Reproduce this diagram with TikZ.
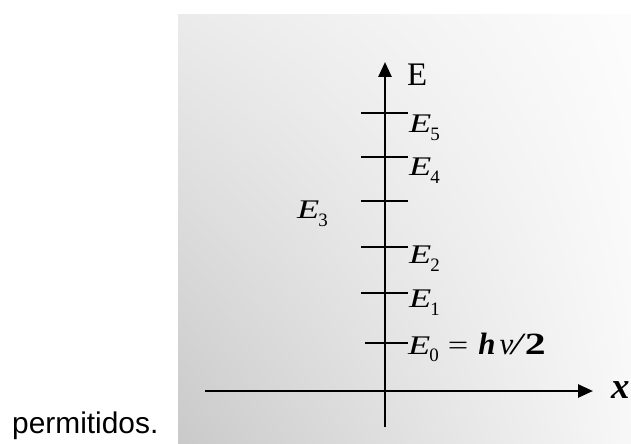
\documentclass[tikz,border=0pt]{standalone}
\usepackage{fontspec}
\setmainfont{Liberation Serif}
\newfontfamily\scanfont[FakeStretch=1.35]{Liberation Serif}
\newfontfamily\arialfont{Liberation Sans}
\usetikzlibrary{arrows.meta,shadings}
\newcommand\Lvl[1]{\textit{E}\kern-1bp\raisebox{-0.28em}{\rmfamily\fontsize{19}{19}\selectfont #1}}
\tikzset{
  axisline/.style={line width=2.6bp, -{Triangle[length=15bp,width=13bp]}},
  plainaxis/.style={line width=2.6bp},
  tickline/.style={line width=2.8bp},
  lvllabel/.style={anchor=base west, inner sep=0pt, font=\scanfont\fontsize{27}{27}\selectfont},
}
\begin{document}
\begin{tikzpicture}[x=1bp,y=-1bp]
\useasboundingbox (0,0) rectangle (631,444);
% scanned background
\shade[upper left=black!8, lower left=black!21, upper right=black!1, lower right=black!3] (178,15) rectangle (631,444);
% axes
\coordinate (O) at (385,391);
\coordinate (ytop) at (385,62);
\coordinate (ybot) at (385,427);
\coordinate (xl) at (205,391);
\coordinate (xr) at (593,391);
\draw[plainaxis] (ybot) -- (O);
\draw[axisline] (O) -- (ytop);
\draw[plainaxis] (xl) -- (O);
\draw[axisline] (O) -- (xr);
% level ticks
\foreach \n/\y/\l in {5/113/361, 4/157/361, 3/201/361, 2/247/361, 1/293/361, 0/343/365} {
  \coordinate (t\n a) at (\l,\y);
  \coordinate (t\n b) at (408,\y);
  \draw[tickline] (t\n a) -- (t\n b);
}
% labels
\node[lvllabel, font=\rmfamily\fontsize{33}{33}\selectfont] (Elab) at (407,86) {E};
\node[lvllabel] (E5) at (409,133) {\Lvl{5}};
\node[lvllabel] (E4) at (409,176) {\Lvl{4}};
\node[lvllabel] (E3) at (297,219) {\Lvl{3}};
\node[lvllabel] (E2) at (409,264) {\Lvl{2}};
\node[lvllabel] (E1) at (409,308) {\Lvl{1}};
\node[lvllabel] (E0) at (408,354) {\Lvl{0}\hspace*{9bp}=\hspace*{10bp}{\rmfamily\fontsize{31}{31}\selectfont{\bfseries\itshape h}\kern4bp{\itshape ν}}\kern-2bp{\fontsize{31}{31}\selectfont\itshape /\kern2bp\bfseries\upshape 2}};
\node[anchor=base west, inner sep=0pt, font=\rmfamily\fontsize{37}{37}\selectfont\bfseries\itshape] (xlab) at (611,398) {x};
\node[anchor=base west, inner sep=0pt, font=\arialfont\fontsize{30}{30}\selectfont] (perm) at (12,433) {permitidos.};
\end{tikzpicture}
\end{document}
